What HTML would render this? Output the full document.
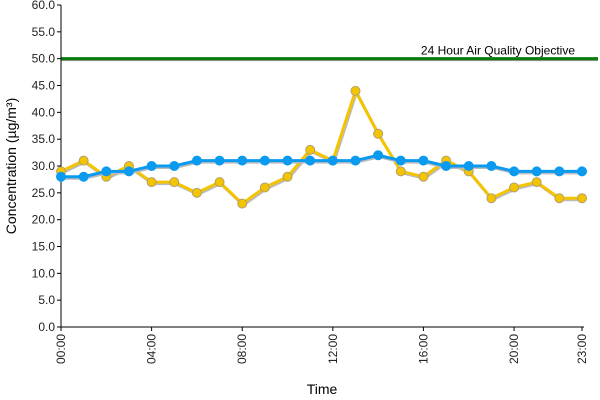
<!DOCTYPE html>
<html><head><meta charset="utf-8"><style>
body{margin:0;background:#fff}
svg{display:block;font-family:"Liberation Sans",Arial,sans-serif}
</style></head><body>
<svg id="c" width="600" height="400"></svg>
<script>
const hours=["00:00","01:00","02:00","03:00","04:00","05:00","06:00","07:00","08:00","09:00","10:00","11:00","12:00","13:00","14:00","15:00","16:00","17:00","18:00","19:00","20:00","21:00","22:00","23:00"];
const yellowSeries=[29,31,28,30,27,27,25,27,23,26,28,33,31,44,36,29,28,31,29,24,26,27,24,24];
const blueSeries=[28,28,29,29,30,30,31,31,31,31,31,31,31,31,32,31,31,30,30,30,29,29,29,29];
const objective=50;
const yTicks=[0,5,10,15,20,25,30,35,40,45,50,55,60];
const xTickIdx=[0,4,8,12,16,20,23];
const NS="http://www.w3.org/2000/svg",svg=document.getElementById('c');
const X0=61,X1=582,Y0=327,Y1=5;
const x=i=>X0+(X1-X0)*i/(hours.length-1);
const y=v=>Y0-(Y0-Y1)*v/60;
function mk(t,a,p){const e=document.createElementNS(NS,t);for(const k in a)e.setAttribute(k,a[k]);(p||svg).appendChild(e);return e;}
// objective line
let g=mk('line',{x1:X0,x2:598,y1:y(objective)+1,y2:y(objective)+1,stroke:'#999','stroke-width':3});

g=mk('line',{x1:X0,x2:598,y1:y(objective),y2:y(objective),stroke:'#0a7a0a','stroke-width':3});

g=mk('text',{x:575,y:y(objective)-4,'text-anchor':'end','font-size':12,fill:'#000'});g.textContent='24 Hour Air Quality Objective';

// axes
g=mk('line',{x1:X0,x2:X0,y1:Y1,y2:Y0,stroke:'#000','stroke-width':1});

g=mk('line',{x1:X0,x2:X1+2,y1:Y0,y2:Y0,stroke:'#000','stroke-width':1});

yTicks.forEach(v=>{
 mk('line',{x1:X0-4,x2:X0,y1:y(v),y2:y(v),stroke:'#000'});
 const t=mk('text',{x:X0-6,y:y(v)+4,'text-anchor':'end','font-size':12,fill:'#222'});t.textContent=v.toFixed(1);
 
});
xTickIdx.forEach(i=>{
 mk('line',{x1:x(i),x2:x(i),y1:Y0,y2:Y0+4,stroke:'#000'});
 const t=mk('text',{x:0,y:0,'text-anchor':'end','font-size':12,fill:'#222',transform:`translate(${x(i)+4},${Y0+7}) rotate(-90)`});t.textContent=hours[i];
 
});
g=mk('text',{x:322,y:394,'text-anchor':'middle','font-size':14,fill:'#000'});g.textContent='Time';

g=mk('text',{x:0,y:0,'text-anchor':'middle','font-size':14,fill:'#000',transform:'translate(16,166) rotate(-90)'});g.textContent='Concentration (µg/m³)';

function series(vals,col,border,name){
 const pts=vals.map((v,i)=>x(i)+','+y(v)).join(' ');
 mk('polyline',{points:vals.map((v,i)=>(x(i)+1)+','+(y(v)+1.5)).join(' '),fill:'none',stroke:'#bbb','stroke-width':3});
 const l=mk('polyline',{points:pts,fill:'none',stroke:col,'stroke-width':3});
 
 vals.forEach((v,i)=>{
  const c=mk('circle',{cx:x(i),cy:y(v),r:4.5,fill:col,stroke:border,'stroke-width':1});
  
 });
}
series(yellowSeries,'#f5c400','#b0a070','yellow-series');
series(blueSeries,'#0a9af0','#0a9af0','blue-series');
</script>
</body></html>
